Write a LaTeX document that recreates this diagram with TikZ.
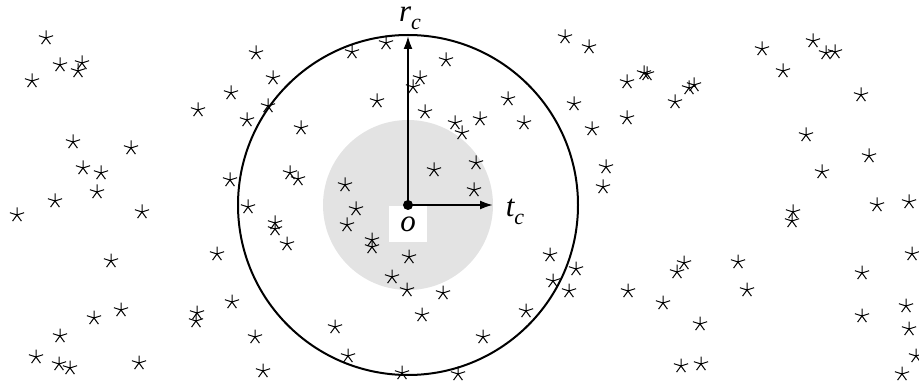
\documentclass[tikz,border=0pt]{standalone}
\usepackage{fontspec}
\setmainfont{Liberation Serif}
\usetikzlibrary{arrows.meta}
\tikzset{
  starline/.style={line width=1pt},
  bigline/.style={line width=2pt},
  axisarrow/.style={line width=2pt, -{Latex[length=13pt,width=9pt]}},
  lbl/.style={anchor=base, inner sep=0pt, font=\fontsize{31}{31}\selectfont\itshape},
  pics/fivestar/.style={code={
    \draw[starline] (0,-7.5) -- (0,0) -- (-7.13,-2.32)
      (-4.41,6.07) -- (0,0) -- (4.41,6.07)
      (0,0) -- (7.13,-2.32);
  }},
}
\newcommand{\subc}{\raisebox{-0.25em}{\fontsize{22}{22}\selectfont\itshape c}}
\begin{document}
\begin{tikzpicture}[x=1pt,y=-1pt]
\useasboundingbox (0,0) rectangle (919,385);
\coordinate (O) at (408,205);
\coordinate (rtip) at (408,36);
\coordinate (ttip) at (493,205);
% inner gray disc
\fill[gray!22] (O) circle (85);
% white label box
\node[fill=white, inner sep=0pt, minimum width=38pt, minimum height=36pt] (obox) at (408,224) {};
% stars
\foreach \p in {
(46,38), (60,65), (82,63), (78,71), (32,81), (198,110), (73,142), (131,148), (83,168), (101,173), (97,192), (231,93), (230,180),
(55,201), (17,215), (142,212), (111,261), (217,254), (94,318), (121,310), (60,336), (36,357), (59,364), (70,368), (139,363), (197,313), (196,321), (232,302),
(256,53), (273,78), (352,52), (386,43), (446,60), (420,78), (413,87), (377,101), (425,112), (268,106), (247,120), (301,128), (455,123), (462,133), (480,119), (290,173), (298,179), (434,170), (345,185),
(565,37), (589,47), (627,82), (644,73), (647,74), (689,88), (694,85), (675,102), (508,99), (524,123), (574,104), (592,129), (627,118), (476,163), (474,190), (606,167), (603,187),
(762,49), (813,41), (826,53), (835,52), (783,71), (861,95), (806,135), (869,156), (822,172),
(248,207), (275,223), (275,229), (287,244), (356,209), (347,225), (372,240), (372,247), (409,257), (392,277), (407,290), (443,293), (422,315), (335,327), (255,337), (348,356), (263,371), (402,373), (458,374),
(550,255), (576,269), (553,281), (569,291), (526,311), (483,337), (628,291), (663,303), (684,263), (677,272), (681,366),
(793,212), (792,221), (877,205), (909,202), (912,254), (862,273), (738,262), (747,290), (700,324), (701,364), (862,316), (906,306), (909,329), (916,356), (902,374)
} \pic at \p {fivestar};
% outer circle
\draw[bigline] (O) circle (170);
% axes
\draw[axisarrow] (O) -- (rtip);
\draw[axisarrow] (O) -- (ttip);
\fill (O) circle (5);
% labels
\node[lbl] (rc) at (410,22) {r\subc};
\node[lbl] (tc) at (515,217) {t\subc};
\node[lbl] (olabel) at (408,231) {o};
\end{tikzpicture}
\end{document}
